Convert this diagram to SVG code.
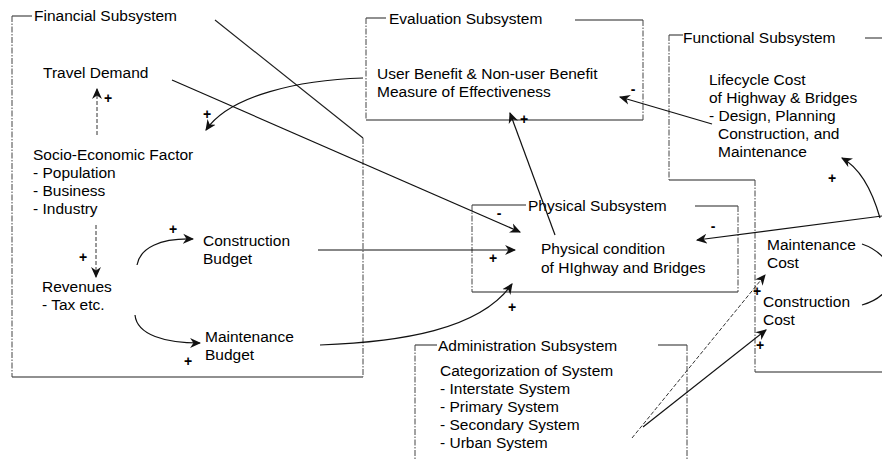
<svg xmlns="http://www.w3.org/2000/svg" width="882" height="460" viewBox="0 0 882 460">
<defs>
<marker id="arr" viewBox="0 0 10 10" refX="9" refY="5" markerWidth="11" markerHeight="11" markerUnits="userSpaceOnUse" orient="auto"><path d="M0,0.5 L10,5 L0,9.5 L3,5 z" fill="#111"/></marker>
<style>
text{font-family:"Liberation Sans",Arial,sans-serif;font-size:15.5px;fill:#000}
.sign{font-size:14px;font-weight:bold;text-anchor:middle}
.edge{fill:none;stroke:#222;stroke-width:1.2}
.dash{fill:none;stroke:#444;stroke-width:1;stroke-dasharray:6,1.5,1.5,1.5}
.c{fill:none;stroke:#111;stroke-width:1.2}
.cd{fill:none;stroke:#333;stroke-width:1;stroke-dasharray:4,2}
</style>
</defs>
<rect width="882" height="460" fill="#fff"/>

<g id="financial-subsystem">
<path class="edge" d="M12 16 H32 M215 20 L363 138 M12 377 H363"/>
<path class="dash" d="M12 16 V377 M363 138 V377"/>
<text x="34" y="21">Financial Subsystem</text>
</g>
<g id="evaluation-subsystem">
<path class="edge" d="M366 18 H386 M575 20 H643 M366 120 H643"/>
<path class="dash" d="M366 18 V120 M643 20 V120"/>
<text x="389" y="24">Evaluation Subsystem</text>
</g>
<g id="functional-subsystem">
<path class="edge" d="M669 35 H683 M865 38 H882 M669 180 H755 M755 372 H882"/>
<path class="dash" d="M669 35 V180 M755 180 V372"/>
<text x="683" y="43">Functional Subsystem</text>
</g>
<g id="physical-subsystem">
<path class="edge" d="M472 205 H526 M695 206 H738 M472 292 H738"/>
<path class="dash" d="M472 205 V292 M738 206 V292"/>
<text x="528" y="211">Physical Subsystem</text>
</g>
<g id="administration-subsystem">
<path class="edge" d="M415 345 H437 M658 345 H687"/>
<path class="dash" d="M415 345 V460 M687 345 V460"/>
<text x="438" y="351">Administration Subsystem</text>
</g>

<g id="travel-demand"><text x="43" y="78">Travel Demand</text></g>
<g id="socio-economic-factor">
<text x="33" y="160">Socio-Economic Factor</text>
<text x="33" y="178">- Population</text>
<text x="33" y="196">- Business</text>
<text x="33" y="214">- Industry</text>
</g>
<g id="revenues">
<text x="42" y="292">Revenues</text>
<text x="42" y="310">- Tax etc.</text>
</g>
<g id="construction-budget">
<text x="203" y="246">Construction</text>
<text x="203" y="264">Budget</text>
</g>
<g id="maintenance-budget">
<text x="205" y="342">Maintenance</text>
<text x="205" y="360">Budget</text>
</g>
<g id="user-benefit">
<text x="377" y="79">User Benefit &amp; Non-user Benefit</text>
<text x="377" y="97">Measure of Effectiveness</text>
</g>
<g id="lifecycle-cost">
<text x="709" y="85">Lifecycle Cost</text>
<text x="709" y="103">of Highway &amp; Bridges</text>
<text x="709" y="121">- Design, Planning</text>
<text x="718" y="139">Construction, and</text>
<text x="718" y="157">Maintenance</text>
</g>
<g id="physical-condition">
<text x="541" y="254">Physical condition</text>
<text x="541" y="273">of HIghway and Bridges</text>
</g>
<g id="maintenance-cost">
<text x="767" y="250">Maintenance</text>
<text x="767" y="268">Cost</text>
</g>
<g id="construction-cost">
<text x="763" y="307">Construction</text>
<text x="763" y="325">Cost</text>
</g>
<g id="categorization">
<text x="440" y="376">Categorization of System</text>
<text x="440" y="394">- Interstate System</text>
<text x="440" y="412">- Primary System</text>
<text x="440" y="430">- Secondary System</text>
<text x="440" y="448">- Urban System</text>
</g>

<g id="connectors">
<path class="cd" d="M97 135 V89" marker-end="url(#arr)"/>
<path class="cd" d="M96 225 V277" marker-end="url(#arr)"/>
<path class="c" d="M137 265 C140 248 160 238 193 239" marker-end="url(#arr)"/>
<path class="c" d="M135 315 C137 335 165 343 200 343" marker-end="url(#arr)"/>
<path class="c" d="M318 250 H515" marker-end="url(#arr)"/>
<path class="c" d="M320 345 C400 342 480 330 512 284" marker-end="url(#arr)"/>
<path class="c" d="M172 80 L520 232" marker-end="url(#arr)"/>
<path class="c" d="M363 78 C300 80 230 95 206 130" marker-end="url(#arr)"/>
<path class="c" d="M555 235 L510 113" marker-end="url(#arr)" stroke-width="1"/>
<path class="c" d="M712 124 L620 97" marker-end="url(#arr)"/>
<path class="c" d="M880 218 C872 190 860 168 842 158" marker-end="url(#arr)"/>
<path class="c" d="M882 216 L697 240" marker-end="url(#arr)"/>
<path class="cd" d="M632 438 L765 275" marker-end="url(#arr)"/>
<path class="c" d="M643 427 L766 330" marker-end="url(#arr)"/>
<path class="c" d="M862 244 C880 250 892 265 892 275 C892 288 880 300 862 305"/>
<text class="sign" x="108" y="103">+</text>
<text class="sign" x="83" y="262">+</text>
<text class="sign" x="173" y="234">+</text>
<text class="sign" x="188" y="366">+</text>
<text class="sign" x="493" y="263">+</text>
<text class="sign" x="512" y="312">+</text>
<text class="sign" x="499" y="218">-</text>
<text class="sign" x="207" y="119">+</text>
<text class="sign" x="524" y="124">+</text>
<text class="sign" x="633" y="94">-</text>
<text class="sign" x="832" y="183">+</text>
<text class="sign" x="713" y="231">-</text>
<text class="sign" x="757" y="296">+</text>
<text class="sign" x="760" y="350">+</text>
</g>
</svg>
